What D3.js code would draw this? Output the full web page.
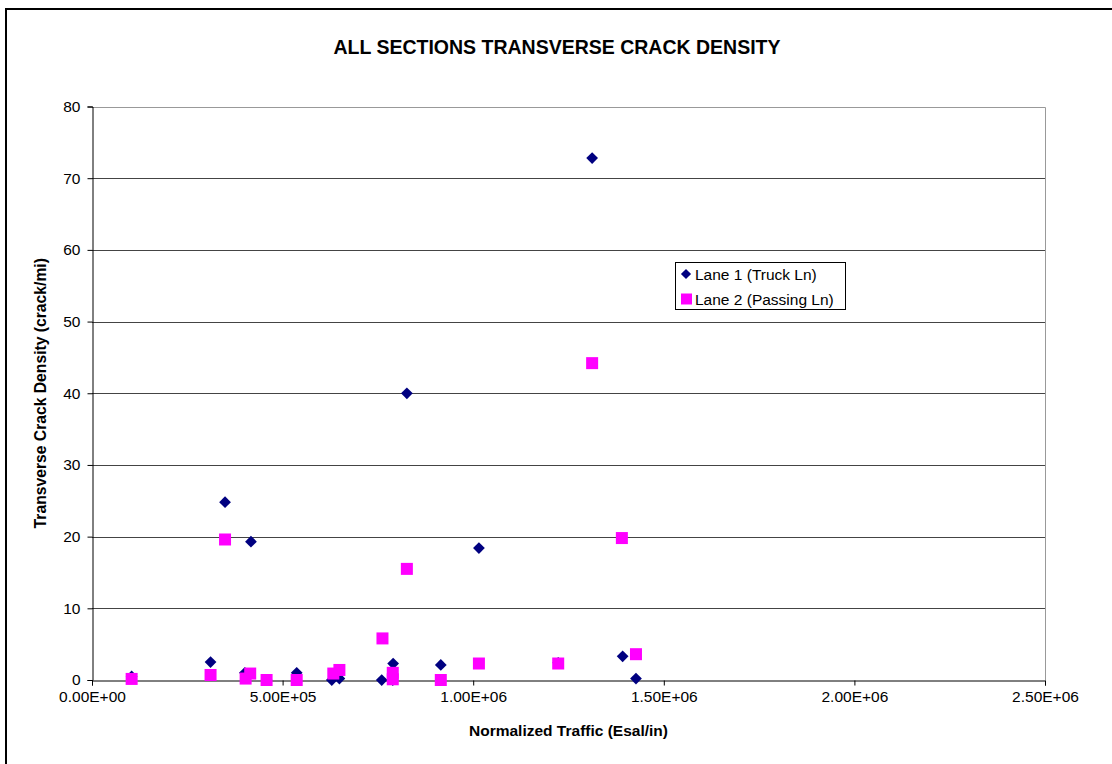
<!DOCTYPE html>
<html>
<head>
<meta charset="utf-8">
<script src="https://cdn.jsdelivr.net/npm/d3@7"></script>
<style>
html,body{margin:0;padding:0;background:#fff;}
svg{display:block;font-family:"Liberation Sans",Arial,sans-serif;}
</style>
</head>
<body>
<svg id="chart" width="1112" height="764"></svg>
<script>
const title = "ALL SECTIONS TRANSVERSE CRACK DENSITY";
const xTitle = "Normalized Traffic (Esal/in)";
const yTitle = "Transverse Crack Density (crack/mi)";
const seriesNames = ["Lane 1 (Truck Ln)", "Lane 2 (Passing Ln)"];
const xTicks = [0, 500000, 1000000, 1500000, 2000000, 2500000];
const xTickLabels = ["0.00E+00", "5.00E+05", "1.00E+06", "1.50E+06", "2.00E+06", "2.50E+06"];
const yTicks = [0, 10, 20, 30, 40, 50, 60, 70, 80];

const lane1X = [104000, 311000, 349000, 401000, 417000, 458000, 537000, 629000, 649000, 760000, 790000, 789000, 826000, 915000, 1015000, 1223000, 1312000, 1392000, 1427000];
const lane1Y = [0.5, 2.5, 24.8, 1.0, 19.3, 0.0, 1.0, 0.0, 0.2, 0.0, 2.3, 0.0, 40.0, 2.1, 18.4, 2.4, 72.8, 3.3, 0.2];
const lane2X = [104000, 311000, 349000, 403000, 415000, 458000, 537000, 633000, 649000, 762000, 789000, 789000, 826000, 915000, 1015000, 1223000, 1312000, 1390000, 1427000];
const lane2Y = [0.15, 0.7, 19.6, 0.2, 0.9, 0.0, 0.0, 0.9, 1.4, 5.8, 1.0, 0.1, 15.5, 0.0, 2.3, 2.3, 44.2, 19.8, 3.6];

const svg = d3.select("#chart");
const L = 92, R = 1045, T = 106.5, B = 680;
const FONT = "Liberation Sans, Arial, sans-serif";

// outer frame
svg.append("rect").attr("x", 6).attr("y", 9).attr("width", 1130).attr("height", 800)
  .attr("fill", "#fff").attr("stroke", "#000").attr("stroke-width", 2);

const x = d3.scaleLinear().domain([0, 2500000]).range([L, R]);
const y = d3.scaleLinear().domain([0, 80]).range([B, T]);

// gridlines
svg.append("g").selectAll("line").data(yTicks.filter(d => d > 0 && d < 80)).join("line")
  .attr("x1", L).attr("x2", R).attr("y1", d => Math.round(y(d)) + 0.5).attr("y2", d => Math.round(y(d)) + 0.5)
  .attr("stroke", "#444").attr("stroke-width", 1);

// plot border top/right
svg.append("path").attr("d", `M${L},${Math.round(T)+0.5}H${R+0.5}V${B}`)
  .attr("fill", "none").attr("stroke", "#999").attr("stroke-width", 1);

// axes
const xAxis = d3.axisBottom(x).tickValues(xTicks).tickFormat((d, i) => xTickLabels[i]).tickSizeOuter(0).tickSize(5).tickPadding(5);
const gx = svg.append("g").attr("transform", `translate(0,${Math.round(B)+0.5})`).call(xAxis);
gx.select(".domain").attr("stroke", "#000");
gx.selectAll(".tick line").attr("stroke", "#000");
gx.selectAll("text").attr("font-size", 15.5).attr("fill", "#000").attr("font-family", FONT);

const yAxis = d3.axisLeft(y).tickValues(yTicks).tickSizeOuter(0).tickSize(5).tickPadding(7);
const gy = svg.append("g").attr("transform", `translate(${L+0.5},0)`).call(yAxis);
gy.select(".domain").attr("stroke", "#000");
gy.selectAll(".tick line").attr("stroke", "#000");
gy.selectAll("text").attr("font-size", 15.5).attr("fill", "#000").attr("font-family", FONT);

// titles
svg.append("text").attr("x", 557).attr("y", 54).attr("text-anchor", "middle")
  .attr("font-size", 19.5).attr("font-weight", "bold").text(title);
svg.append("text").attr("x", (L + R) / 2).attr("y", 736).attr("text-anchor", "middle")
  .attr("font-size", 15.5).attr("font-weight", "bold").text(xTitle);
svg.append("text").attr("transform", `translate(46,${(T + B) / 2}) rotate(-90)`).attr("text-anchor", "middle")
  .attr("font-size", 15.7).attr("font-weight", "bold").text(yTitle);

// points
const diamond = d3.symbol().type(d3.symbolDiamond2).size(88);
const lane1 = lane1X.map((v, i) => ({x: v, y: lane1Y[i]}));
const lane2 = lane2X.map((v, i) => ({x: v, y: lane2Y[i]}));

svg.append("g").selectAll("path").data(lane1).join("path")
  .attr("d", diamond).attr("transform", d => `translate(${x(d.x)},${y(d.y)})`).attr("fill", "#000080");
const sq = 12;
svg.append("g").selectAll("rect").data(lane2).join("rect")
  .attr("x", d => x(d.x) - sq / 2).attr("y", d => y(d.y) - sq / 2).attr("width", sq).attr("height", sq)
  .attr("fill", "#ff00ff");

// legend
const lg = svg.append("g");
lg.append("rect").attr("x", 675.5).attr("y", 262.5).attr("width", 170).attr("height", 47)
  .attr("fill", "#fff").attr("stroke", "#000").attr("stroke-width", 1);
lg.append("path").attr("d", d3.symbol().type(d3.symbolDiamond2).size(66)).attr("transform", "translate(686,274)").attr("fill", "#000080");
lg.append("rect").attr("x", 681).attr("y", 293.5).attr("width", 11).attr("height", 11).attr("fill", "#ff00ff");
lg.append("text").attr("x", 695).attr("y", 279.5).attr("font-size", 15.5).text(seriesNames[0]);
lg.append("text").attr("x", 695).attr("y", 304.5).attr("font-size", 15.5).text(seriesNames[1]);
</script>
</body>
</html>
